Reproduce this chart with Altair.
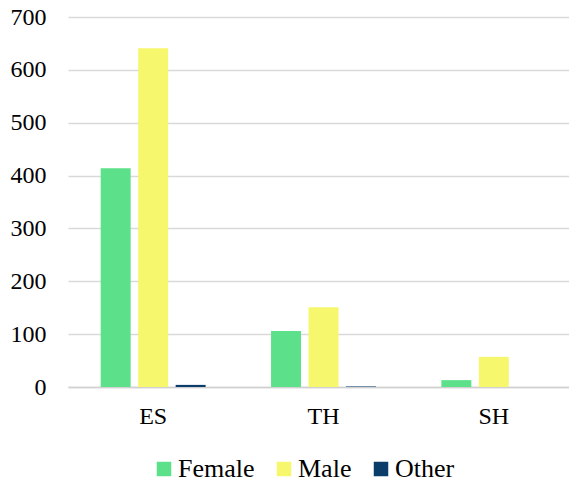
import altair as alt
import pandas as pd

categories = ["ES", "TH", "SH"]
series = ["Female", "Male", "Other"]
female = [414, 106, 13]
male = [641, 151, 57]
other = [4, 1, 0]
colors = ["#5DE08A", "#F7F76E", "#0B3D6B"]

rows = []
for i, c in enumerate(categories):
    for s, vals in zip(series, [female, male, other]):
        rows.append({"cat": c, "series": s, "value": vals[i]})
df = pd.DataFrame(rows)

FONT = "Liberation Serif"
FS = 24
LFS = 26

chart = alt.Chart(df).mark_bar().encode(
    x=alt.X("cat:N", sort=categories, title=None,
            scale=alt.Scale(range=[0, 511], paddingInner=0.384, paddingOuter=0.192),
            axis=alt.Axis(labelAngle=0, ticks=False, domain=True, domainColor="#d0d0d0",
                          domainWidth=1.5, labelPadding=36, labelBaseline="alphabetic",
                          labelFontSize=FS, labelFont=FONT, labelColor="#000000",
                          grid=False)),
    xOffset=alt.XOffset("series:N", sort=series,
                        scale=alt.Scale(paddingInner=0.2, paddingOuter=0)),
    y=alt.Y("value:Q", title=None,
            scale=alt.Scale(domain=[0, 700], nice=False),
            axis=alt.Axis(values=list(range(0, 701, 100)), ticks=False, domain=False,
                          labelPadding=22, labelFontSize=FS, labelFont=FONT,
                          labelColor="#000000", gridColor="#d9d9d9", gridWidth=1.5)),
    color=alt.Color("series:N", sort=series, title=None,
                    scale=alt.Scale(domain=series, range=colors),
                    legend=alt.Legend(orient="none", legendX=83, legendY=439,
                                      direction="horizontal", symbolType="square",
                                      symbolSize=210, symbolStrokeWidth=0,
                                      labelFontSize=LFS, labelFont=FONT,
                                      labelColor="#000000", labelOffset=1,
                                      columnPadding=16)),
).properties(
    width=501, height=370,
    autosize=alt.AutoSizeParams(type="none"),
    padding={"left": 60, "top": 9, "right": 0, "bottom": 95},
).configure_view(stroke=None)

chart.save("out.html", embed_options={"renderer": "svg", "actions": False})
